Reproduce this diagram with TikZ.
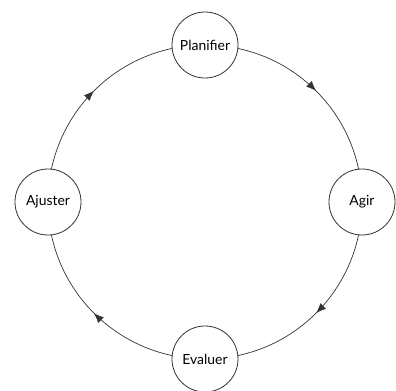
\documentclass[tikz,border=0pt]{standalone}
\usepackage{fontspec}
\setmainfont{Lato}
\usetikzlibrary{arrows.meta}
\usetikzlibrary{decorations.markings}
\usetikzlibrary{backgrounds}

\begin{document}
\begin{tikzpicture}[x=1bp, y=1bp,
  phase/.style = {draw=black!80, circle, fill=white, line width=0.8bp, minimum size=66bp, inner sep=0pt, font=\fontsize{14}{16}\selectfont},
  flow/.style  = {draw=black!80, line width=0.7bp, bend left=45, postaction={decorate},
                  decoration={markings, mark=at position 0.5 with {\arrow{Latex[length=10bp,width=8bp]}}}}
]
  \useasboundingbox (0,0) rectangle (396,391);

  \node[phase] (plan)  at (205,346) {Planifier};
  \node[phase] (agir)  at (362,189) {Agir};
  \node[phase] (eval)  at (205,32)  {Evaluer};
  \node[phase] (ajust) at (48,189)  {Ajuster};

  \begin{scope}[on background layer]
    \draw[flow] (plan.center)  to (agir.center);
    \draw[flow] (agir.center)  to (eval.center);
    \draw[flow] (eval.center)  to (ajust.center);
    \draw[flow] (ajust.center) to (plan.center);
  \end{scope}
\end{tikzpicture}
\end{document}
